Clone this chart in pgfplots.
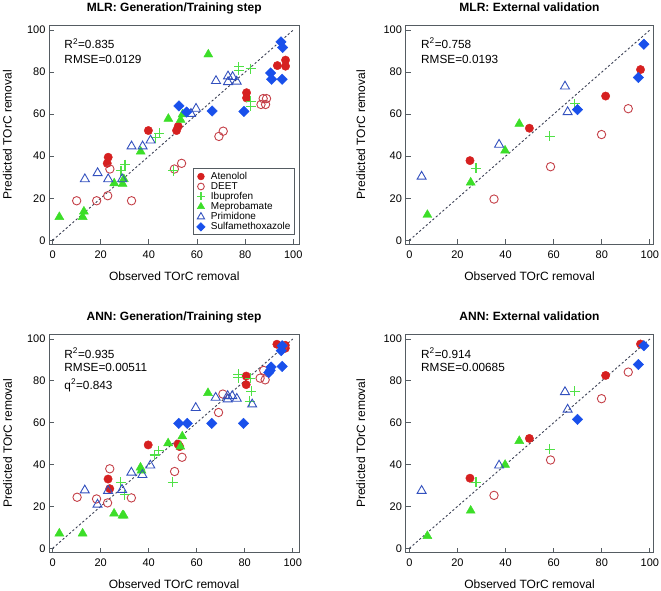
\documentclass[border=0pt]{standalone}
\usepackage{fontspec}
\setmainfont{Liberation Sans}
\usepackage{pgfplots}
\pgfplotsset{compat=1.18}
\definecolor{cAte}{RGB}{214,32,32}
\definecolor{cDeet}{RGB}{196,64,72}
\definecolor{cIbu}{RGB}{80,225,70}
\definecolor{cMep}{RGB}{60,222,40}
\definecolor{cPri}{RGB}{50,80,190}
\definecolor{cSul}{RGB}{25,80,235}
\definecolor{frame}{RGB}{85,92,98}
\definecolor{diag}{RGB}{60,65,85}
\tikzset{ann/.style={font=\fontsize{11.8}{14}\selectfont, anchor=base west, inner sep=0pt}}
\pgfplotsset{
  panel/.style={
    scale only axis, anchor=south west, clip=false,
    ymin=-2, ymax=102.4,
    xtick={0,20,...,100}, ytick={0,20,...,100},
    tick align=inside, major tick length=5pt,
    xtick pos=bottom, ytick pos=left,
    axis line style={color=frame, line width=0.9pt},
    every tick/.style={color=frame, line width=0.9pt},
    /pgf/number format/assume math mode=true,
    ticklabel style={font=\fontsize{11}{13}\selectfont},
    xticklabel style={yshift=-2.5pt},
    label style={font=\fontsize{12}{14}\selectfont},
    every axis title shift=0pt,
    title style={font=\bfseries\fontsize{12}{14}\selectfont, at={(axis description cs:0.5,1)}, anchor=base, yshift=13.5pt},
    xlabel={Observed TOrC removal}, ylabel={Predicted TOrC removal},
    xlabel style={at={(axis description cs:0.5,-0.1435)}, anchor=center},
  },
  ate/.style={only marks, mark=*, mark size=4.2pt, color=cAte, mark options={draw=cAte, fill=cAte}},
  deet/.style={only marks, mark=o, mark size=4.2pt, color=cDeet, mark options={draw=cDeet, line width=0.9pt}},
  ibu/.style={only marks, mark=+, mark size=5pt, color=cIbu, mark options={draw=cIbu, line width=1.1pt}},
  mep/.style={only marks, mark=triangle*, mark size=5.2pt, color=cMep, mark options={draw=cMep, fill=cMep}},
  pri/.style={only marks, mark=triangle, mark size=5.2pt, color=cPri, mark options={draw=cPri, line width=0.9pt}},
  sul/.style={only marks, mark=square*, mark size=3.7pt, color=cSul, mark options={draw=cSul, fill=cSul, rotate=45}},
  diagline/.style={forget plot, color=diag, line width=0.9pt, dash pattern=on 2.2pt off 2.2pt},
}
\begin{document}
\begin{tikzpicture}
% ---------------- Panel 1 ----------------
\begin{axis}[panel, at={(49pt,345.5pt)}, width=250.5pt, height=219.5pt,
  xmin=-1.5, xmax=102.6,
  title={MLR: Generation/Training step},
  ylabel style={at={(axis description cs:-0.166,0.5)}, anchor=center},
  legend style={at={(axis description cs:0.979,0.043)}, anchor=south east,
    draw=frame, line width=0.6pt, font=\fontsize{10}{11}\selectfont,
    row sep=-2.6pt, inner sep=1.5pt, cells={anchor=west}},
  legend image code/.code={\path[draw=none,fill=none] (-6pt,-3pt) rectangle (8pt,3pt); \draw[#1] plot coordinates {(0pt,0pt)};},
  legend image post style={/tikz/every mark/.append style={scale=0.8}},
]
\addplot[diagline] coordinates {(0,0) (100,100)};
\addplot[ate] coordinates {(23.1,39.5) (22.7,36.6) (39.8,52.2) (52.2,54.2) (51.5,52.2) (80.6,70.2) (80.6,67.7) (93.4,83.1) (96.8,85.7) (96.8,82.8)};
\addlegendentry{Atenolol}
\addplot[deet] coordinates {(10.0,18.8) (18.3,18.8) (22.9,21.2) (23.8,33.9) (32.8,18.8) (50.6,33.9) (53.6,36.6) (69.1,49.4) (70.9,51.9) (86.6,64.6) (88.5,64.6) (87.5,67.4) (88.9,67.4)};
\addlegendentry{DEET}
\addplot[ibu] coordinates {(28.4,33.1) (30.1,36.0) (42.9,48.7) (44.3,51.0) (50.1,33.1) (77.4,80.9) (77.4,82.5) (82.3,81.7) (82.3,66.2) (82.3,63.7)};
\addlegendentry{Ibuprofen}
\addplot[mep] coordinates {(2.8,11.1) (12.5,11.1) (13.0,13.7) (25.6,27.1) (29.1,26.8) (29.6,29.1) (36.6,42.2) (48.1,57.8) (53.2,57.3) (54.0,59.9) (64.7,88.4)};
\addlegendentry{Meprobamate}
\addplot[pri] coordinates {(13.4,29.1) (18.7,32.0) (23.1,29.1) (28.9,29.1) (32.8,44.7) (37.4,44.7) (40.7,47.5) (57.5,60.2) (59.6,62.6) (67.9,75.8) (72.9,78.0) (74.8,77.7) (72.9,75.3) (76.5,75.5)};
\addlegendentry{Primidone}
\addplot[sul] coordinates {(52.5,63.9) (55.7,61.0) (66.3,61.5) (79.5,61.3) (90.6,79.6) (91.0,76.6) (95.4,76.6) (94.9,94.4) (95.6,91.7)};
\addlegendentry{Sulfamethoxazole}
\node[ann] at (axis description cs:0.061,0.891) {R\textsuperscript{2}=0.835};
\node[ann] at (axis description cs:0.061,0.8255) {RMSE=0.0129};
\end{axis}
% ---------------- Panel 2 ----------------
\begin{axis}[panel, at={(405.5pt,345.5pt)}, width=248pt, height=219.5pt,
  xmin=-1.6, xmax=101.5,
  title={MLR: External validation},
  ylabel style={at={(axis description cs:-0.18,0.5)}, anchor=center},
]
\addplot[diagline] coordinates {(0,0) (100,100)};
\addplot[ate] coordinates {(25.2,37.9) (49.9,53.3) (81.6,68.6) (96.1,81.2)};
\addplot[deet] coordinates {(35.2,19.6) (58.7,35.0) (79.9,50.3) (91.0,62.6)};
\addplot[ibu] coordinates {(27.7,34.2) (58.4,49.4) (68.8,65.0)};
\addplot[mep] coordinates {(7.5,12.1) (25.5,27.5) (39.8,42.7) (45.7,55.4)};
\addplot[pri] coordinates {(5.1,30.3) (37.3,45.5) (64.7,73.2) (65.8,61.0)};
\addplot[sul] coordinates {(69.9,62.1) (95.2,77.4) (97.5,93.2)};
\node[ann] at (axis description cs:0.0625,0.894) {R\textsuperscript{2}=0.758};
\node[ann] at (axis description cs:0.0625,0.825) {RMSE=0.0193};
\end{axis}
% ---------------- Panel 3 ----------------
\begin{axis}[panel, at={(49pt,37.5pt)}, width=250pt, height=218.5pt,
  xmin=-1.5, xmax=102.6,
  title={ANN: Generation/Training step},
  ylabel style={at={(axis description cs:-0.166,0.5)}, anchor=center},
]
\addplot[diagline] coordinates {(0,0) (100,100)};
\addplot[ate] coordinates {(23.1,33.1) (23.8,28.5) (39.8,49.4) (52.2,49.8) (52.9,48.6) (80.6,82.3) (80.6,78.2) (93.4,97.5) (96.9,97.0) (96.9,95.6)};
\addplot[deet] coordinates {(10.2,24.4) (18.3,23.6) (22.9,21.7) (23.8,38.0) (32.8,24.1) (50.8,36.7) (53.9,43.5) (69.1,64.9) (70.9,73.7) (86.4,81.3) (88.5,80.5) (87.9,85.0) (96.0,96.5)};
\addplot[ibu] coordinates {(28.4,31.5) (30.1,25.6) (42.5,44.6) (44.2,46.7) (50.1,31.5) (77.4,83.1) (77.4,81.5) (82.3,81.3) (82.7,75.0) (82.0,70.3)};
\addplot[mep] coordinates {(2.8,7.1) (12.5,7.1) (25.6,16.6) (29.1,15.7) (29.6,15.7) (36.6,38.6) (37.0,37.2) (48.1,50.2) (53.2,48.6) (54.0,53.5) (64.7,74.2)};
\addplot[pri] coordinates {(13.4,27.7) (18.7,20.9) (23.1,27.5) (28.9,28.0) (32.8,36.2) (37.4,35.1) (40.7,39.6) (59.6,67.1) (67.9,72.0) (72.9,71.2) (74.8,72.8) (76.7,71.5) (83.1,68.8) (72.9,72.8)};
\addplot[sul] coordinates {(52.5,59.7) (56.1,59.7) (66.3,59.7) (79.5,59.7) (90.6,85.0) (91.0,86.6) (90.0,83.9) (95.6,86.9) (95.2,94.5) (95.6,96.8)};
\node[ann] at (axis description cs:0.061,0.889) {R\textsuperscript{2}=0.935};
\node[ann] at (axis description cs:0.061,0.8275) {RMSE=0.00511};
\node[ann] at (axis description cs:0.061,0.748) {q\textsuperscript{2}=0.843};
\end{axis}
% ---------------- Panel 4 ----------------
\begin{axis}[panel, at={(405.5pt,37.5pt)}, width=248pt, height=218.5pt,
  xmin=-1.6, xmax=101.5,
  title={ANN: External validation},
  ylabel style={at={(axis description cs:-0.18,0.5)}, anchor=center},
]
\addplot[diagline] coordinates {(0,0) (100,100)};
\addplot[ate] coordinates {(25.2,33.5) (49.9,52.5) (81.6,82.6) (96.1,97.6)};
\addplot[deet] coordinates {(35.2,25.3) (58.7,42.2) (79.9,71.5) (91.0,84.2)};
\addplot[ibu] coordinates {(27.7,31.5) (58.4,47.3) (68.8,75.0)};
\addplot[mep] coordinates {(7.5,5.9) (25.5,18.0) (39.8,39.9) (45.7,51.3)};
\addplot[pri] coordinates {(5.1,27.5) (37.3,39.6) (64.7,74.7) (65.8,66.3)};
\addplot[sul] coordinates {(69.9,61.6) (95.2,87.8) (97.5,96.8)};
\node[ann] at (axis description cs:0.0625,0.889) {R\textsuperscript{2}=0.914};
\node[ann] at (axis description cs:0.0625,0.8275) {RMSE=0.00685};
\end{axis}
\pgfresetboundingbox
\path (0pt,0pt) rectangle (661pt,590pt);
\end{tikzpicture}
\end{document}
